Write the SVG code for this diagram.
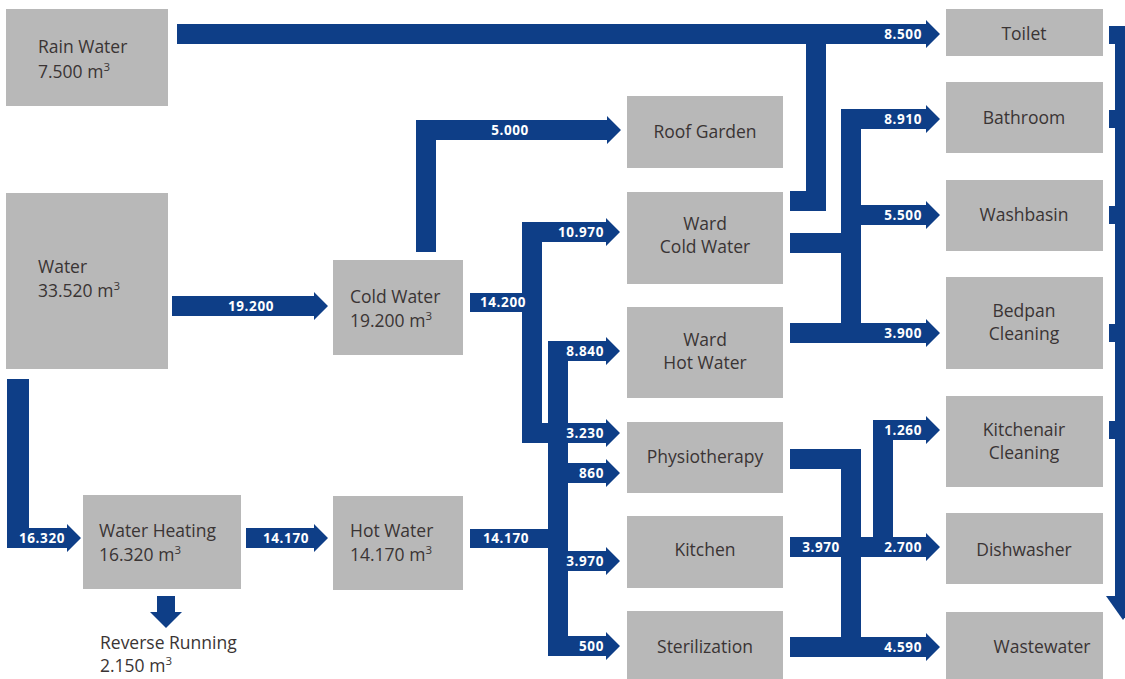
<svg xmlns="http://www.w3.org/2000/svg" width="1125" height="679" viewBox="0 0 1125 679">
<style>
.box{fill:#b8b8b8}
.t{font-family:"Open Sans","Liberation Sans",sans-serif;font-size:17.5px;fill:#3a3434}
.c{text-anchor:middle}
.sup{font-size:11.5px}
.lbl{font-family:"Open Sans","Liberation Sans",sans-serif;font-size:13.5px;font-weight:bold;fill:#ffffff;letter-spacing:0.6px}
.r{text-anchor:end}
.m{text-anchor:middle}
#connectors{fill:#0e3e87}
</style>
<rect width="1125" height="679" fill="#ffffff"/>
<g id="connectors">
<polygon points="177,24 926,24 926,20 940,34 926,48 926,44 177,44"/>
<rect x="806" y="40" width="20" height="171"/>
<rect x="790" y="191" width="36" height="20"/>
<rect x="1109" y="26" width="20" height="18"/>
<rect x="1115" y="26" width="16" height="572"/>
<polygon points="1106,596 1140,596 1123,620"/>
<rect x="1109" y="110" width="8" height="18"/>
<rect x="1109" y="206" width="8" height="18"/>
<rect x="1109" y="324" width="8" height="18"/>
<rect x="1109" y="421" width="8" height="18"/>
<rect x="790" y="233" width="71" height="20"/>
<rect x="841" y="109" width="20" height="234"/>
<polygon points="841,109 926,109 926,105 940,119 926,133 926,129 841,129"/>
<polygon points="861,205 926,205 926,201 940,215 926,229 926,225 861,225"/>
<polygon points="790,323 926,323 926,319 940,333 926,347 926,343 790,343"/>
<rect x="790" y="449" width="71" height="20"/>
<rect x="841" y="449" width="20" height="208"/>
<polygon points="790,537 926,537 926,533 940,547 926,561 926,557 790,557"/>
<rect x="873" y="420" width="20" height="127"/>
<polygon points="873,420 926,420 926,416 940,430 926,444 926,440 873,440"/>
<polygon points="790,637 926,637 926,633 940,647 926,661 926,657 790,657"/>
<polygon points="172,296 314,296 314,292 328,306 314,320 314,316 172,316"/>
<rect x="7" y="379" width="22" height="169"/>
<polygon points="7,528 67,528 67,524 81,538 67,552 67,548 7,548"/>
<polygon points="246,528 314,528 314,524 328,538 314,552 314,548 246,548"/>
<rect x="416" y="120" width="20" height="132"/>
<polygon points="416,120 607,120 607,116 621,130 607,144 607,140 416,140"/>
<rect x="470" y="293" width="72" height="19"/>
<rect x="522" y="222" width="20" height="221"/>
<polygon points="522,222 606,222 606,218 620,232 606,246 606,242 522,242"/>
<polygon points="522,423 606,423 606,419 620,433 606,447 606,443 522,443"/>
<rect x="548" y="341" width="20" height="315"/>
<polygon points="548,341 606,341 606,337 620,351 606,365 606,361 548,361"/>
<polygon points="548,463 606,463 606,459 620,473 606,487 606,483 548,483"/>
<polygon points="548,551 606,551 606,547 620,561 606,575 606,571 548,571"/>
<polygon points="548,636 606,636 606,632 620,646 606,660 606,656 548,656"/>
<rect x="470" y="529" width="98" height="19"/>
<polygon points="157,596 175,596 175,612 182,612 166,628 150,612 157,612"/>
</g>
<g id="labels">
<text class="lbl r" x="922" y="39">8.500</text>
<text class="lbl r" x="922" y="124">8.910</text>
<text class="lbl r" x="922" y="220">5.500</text>
<text class="lbl r" x="922" y="338">3.900</text>
<text class="lbl r" x="922" y="435">1.260</text>
<text class="lbl r" x="922" y="552">2.700</text>
<text class="lbl r" x="922" y="652">4.590</text>
<text class="lbl m" x="821" y="552">3.970</text>
<text class="lbl m" x="510" y="135">5.000</text>
<text class="lbl r" x="604" y="237">10.970</text>
<text class="lbl r" x="604" y="356">8.840</text>
<text class="lbl r" x="604" y="438">3.230</text>
<text class="lbl r" x="604" y="478">860</text>
<text class="lbl r" x="604" y="566">3.970</text>
<text class="lbl r" x="604" y="651">500</text>
<text class="lbl m" x="503" y="307">14.200</text>
<text class="lbl m" x="506" y="543">14.170</text>
<text class="lbl m" x="251" y="311">19.200</text>
<text class="lbl m" x="42" y="543">16.320</text>
<text class="lbl m" x="286" y="543">14.170</text>
</g>
<g id="rain-water"><rect class="box" x="6" y="9" width="162" height="97"/><text class="t" x="38" y="53">Rain Water</text><text class="t" x="38" y="78">7.500 m<tspan class="sup" dy="-7">3</tspan></text></g>
<g id="water"><rect class="box" x="6" y="193" width="162" height="176"/><text class="t" x="38" y="273">Water</text><text class="t" x="38" y="297">33.520 m<tspan class="sup" dy="-7">3</tspan></text></g>
<g id="cold-water"><rect class="box" x="333" y="260" width="130" height="95"/><text class="t" x="350" y="303">Cold Water</text><text class="t" x="350" y="327">19.200 m<tspan class="sup" dy="-7">3</tspan></text></g>
<g id="water-heating"><rect class="box" x="83" y="495" width="158" height="94"/><text class="t" x="99" y="537">Water Heating</text><text class="t" x="99" y="561">16.320 m<tspan class="sup" dy="-7">3</tspan></text></g>
<g id="hot-water"><rect class="box" x="333" y="496" width="130" height="94"/><text class="t" x="350" y="537">Hot Water</text><text class="t" x="350" y="561">14.170 m<tspan class="sup" dy="-7">3</tspan></text></g>
<g id="reverse-running"><text class="t" x="100" y="649">Reverse Running</text><text class="t" x="100" y="672">2.150 m<tspan class="sup" dy="-7">3</tspan></text></g>
<g id="roof-garden"><rect class="box" x="627" y="96" width="156" height="72"/><text class="t c" x="705" y="138">Roof Garden</text></g>
<g id="ward-cold-water"><rect class="box" x="627" y="192" width="156" height="92"/><text class="t c" x="705" y="230">Ward</text><text class="t c" x="705" y="253">Cold Water</text></g>
<g id="ward-hot-water"><rect class="box" x="627" y="307" width="156" height="91"/><text class="t c" x="705" y="346">Ward</text><text class="t c" x="705" y="369">Hot Water</text></g>
<g id="physiotherapy"><rect class="box" x="627" y="422" width="156" height="71"/><text class="t c" x="705" y="463">Physiotherapy</text></g>
<g id="kitchen"><rect class="box" x="627" y="516" width="156" height="72"/><text class="t c" x="705" y="556">Kitchen</text></g>
<g id="sterilization"><rect class="box" x="627" y="611" width="156" height="68"/><text class="t c" x="705" y="653">Sterilization</text></g>
<g id="toilet"><rect class="box" x="946" y="9" width="157" height="47"/><text class="t c" x="1024" y="40">Toilet</text></g>
<g id="bathroom"><rect class="box" x="946" y="82" width="157" height="71"/><text class="t c" x="1024" y="124">Bathroom</text></g>
<g id="washbasin"><rect class="box" x="946" y="180" width="157" height="71"/><text class="t c" x="1024" y="221">Washbasin</text></g>
<g id="bedpan-cleaning"><rect class="box" x="946" y="277" width="157" height="92"/><text class="t c" x="1024" y="317">Bedpan</text><text class="t c" x="1024" y="340">Cleaning</text></g>
<g id="kitchenair-cleaning"><rect class="box" x="946" y="396" width="157" height="91"/><text class="t c" x="1024" y="436">Kitchenair</text><text class="t c" x="1024" y="459">Cleaning</text></g>
<g id="dishwasher"><rect class="box" x="946" y="513" width="157" height="71"/><text class="t c" x="1024" y="556">Dishwasher</text></g>
<g id="wastewater"><rect class="box" x="946" y="612" width="157" height="67"/><text class="t c" x="1042" y="653">Wastewater</text></g>
</svg>
